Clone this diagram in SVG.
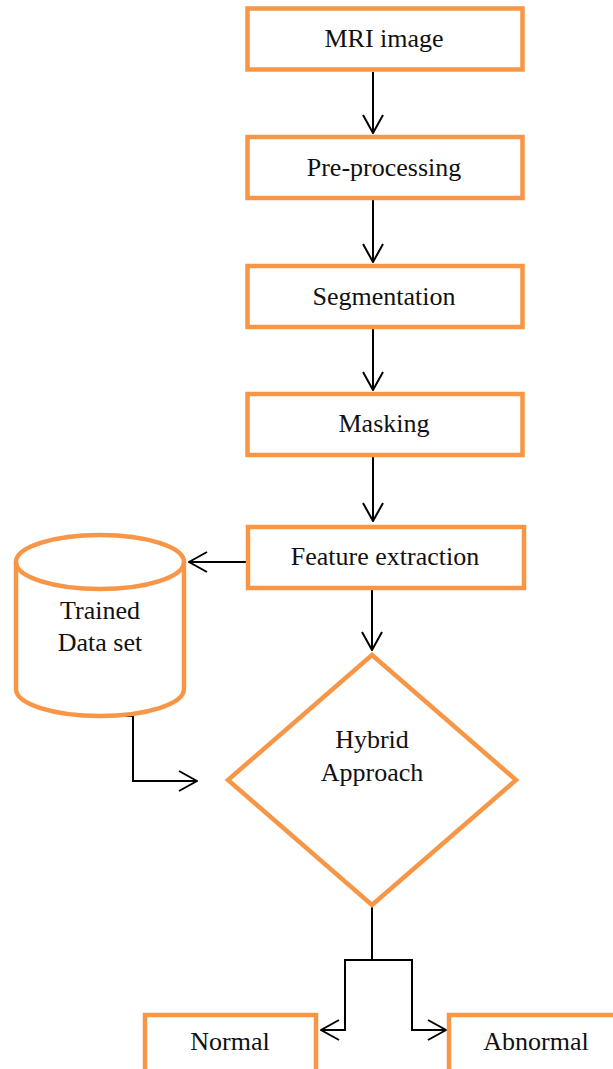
<svg xmlns="http://www.w3.org/2000/svg" width="613" height="1069" viewBox="0 0 613 1069">
<style>
.box{fill:#fff;stroke:#F79646;stroke-width:4.5}
.lbl{font-family:"Liberation Serif","Times New Roman",serif;font-size:26px;fill:#111;text-anchor:middle}
.con{fill:none;stroke:#000;stroke-width:2}
</style>
<defs>
<marker id="arr" viewBox="0 0 20 22" refX="19" refY="11" markerWidth="20" markerHeight="22" markerUnits="userSpaceOnUse" orient="auto">
<path d="M1,1 L19,11 L1,21" fill="none" stroke="#000" stroke-width="2"/>
</marker>
</defs>
<rect width="613" height="1069" fill="#fff"/>
<g id="connectors">
<line class="con" x1="373" y1="72" x2="373" y2="133" marker-end="url(#arr)"/>
<line class="con" x1="373" y1="200" x2="373" y2="262" marker-end="url(#arr)"/>
<line class="con" x1="373" y1="329" x2="373" y2="390" marker-end="url(#arr)"/>
<line class="con" x1="373" y1="457" x2="373" y2="521" marker-end="url(#arr)"/>
<line class="con" x1="246" y1="562" x2="189" y2="562" marker-end="url(#arr)"/>
<line class="con" x1="372" y1="590" x2="372" y2="650" marker-end="url(#arr)"/>
<polyline class="con" points="98,716 133,716 133,781 197,781" marker-end="url(#arr)"/>
<line class="con" x1="372" y1="907" x2="372" y2="960"/>
<polyline class="con" points="372,960 345,960 345,1030 321,1030" marker-end="url(#arr)"/>
<polyline class="con" points="372,960 412,960 412,1030 446,1030" marker-end="url(#arr)"/>
</g>
<g id="mri">
<rect class="box" x="247.5" y="8.5" width="275" height="61"/>
<text class="lbl" x="384" y="47">MRI image</text>
</g>
<g id="preprocessing">
<rect class="box" x="247.5" y="137" width="275" height="61"/>
<text class="lbl" x="384" y="176">Pre-processing</text>
</g>
<g id="segmentation">
<rect class="box" x="247.5" y="266" width="275" height="61"/>
<text class="lbl" x="384" y="305">Segmentation</text>
</g>
<g id="masking">
<rect class="box" x="247.5" y="394" width="275" height="61"/>
<text class="lbl" x="384" y="432">Masking</text>
</g>
<g id="feature">
<rect class="box" x="248" y="527" width="276" height="61"/>
<text class="lbl" x="385" y="565">Feature extraction</text>
</g>
<g id="dataset">
<path class="box" d="M16,562 L16,689 A84,27 0 0 0 184,689 L184,562 A84,27 0 0 0 16,562 Z"/>
<path class="box" style="fill:none" d="M16,562 A84,27 0 0 0 184,562"/>
<text class="lbl" x="100" y="619">Trained</text>
<text class="lbl" x="100" y="651">Data set</text>
</g>
<g id="hybrid">
<polygon class="box" points="372,655 516,780 372,905 228,780"/>
<text class="lbl" x="372" y="748">Hybrid</text>
<text class="lbl" x="372" y="781">Approach</text>
</g>
<g id="normal">
<rect class="box" x="145" y="1015" width="171" height="70"/>
<text class="lbl" x="230" y="1050">Normal</text>
</g>
<g id="abnormal">
<rect class="box" x="449" y="1015" width="180" height="70"/>
<text class="lbl" x="536" y="1050">Abnormal</text>
</g>
</svg>
